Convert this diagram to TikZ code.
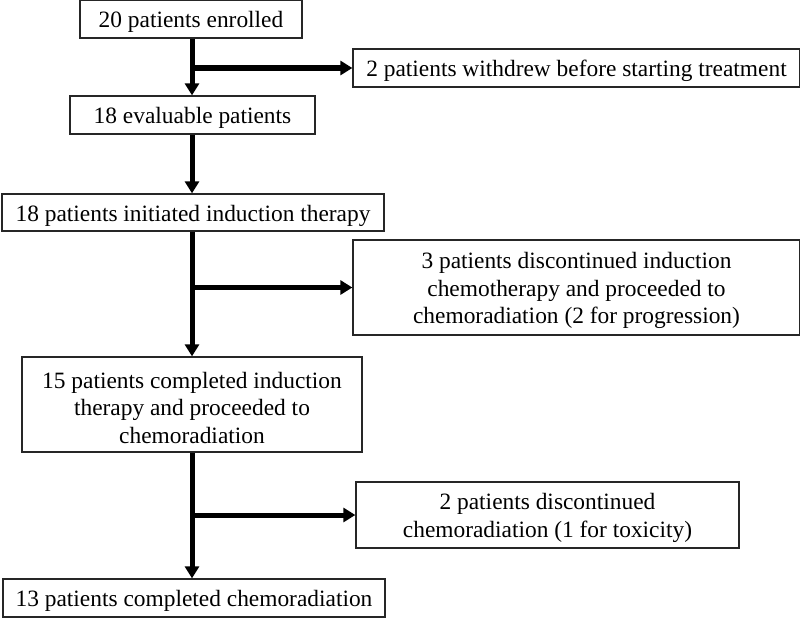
\documentclass[tikz,border=0pt]{standalone}
\usepackage{fontspec}
\setmainfont{Liberation Serif}
\usetikzlibrary{arrows.meta}
\begin{document}
\begin{tikzpicture}[x=1pt,y=1pt,
  box/.style={draw=black!85, line width=1.3pt, inner sep=0pt, anchor=center,
    label={[font=\fontsize{23.4}{27.5}\selectfont, align=center, inner sep=0pt, yshift=-3pt]center:{#1}}},
  flow/.style={line width=5pt, -{Triangle[length=12pt,width=14pt]}}]
\useasboundingbox (0,0) rectangle (800,-618);
\node[box={20 patients enrolled}, minimum width=222pt, minimum height=38pt] (b1) at (191,-19) {};
\node[box={2 patients withdrew before starting treatment}, minimum width=447pt, minimum height=38pt] (b2) at (576.5,-68) {};
\node[box={18 evaluable patients}, minimum width=245pt, minimum height=38pt] (b3) at (192.5,-115) {};
\node[box={18 patients initiated induction therapy}, minimum width=382pt, minimum height=37pt] (b4) at (193,-212.5) {};
\node[box={3 patients discontinued induction\\chemotherapy and proceeded to\\chemoradiation (2 for progression)}, minimum width=447pt, minimum height=95pt] (b5) at (576.5,-287.5) {};
\node[box={15 patients completed induction\\therapy and proceeded to\\chemoradiation}, minimum width=340pt, minimum height=95pt] (b6) at (192,-404.5) {};
\node[box={2 patients discontinued\\chemoradiation (1 for toxicity)}, minimum width=383pt, minimum height=66pt] (b7) at (547.5,-515) {};
\node[box={13 patients completed chemoradiation}, minimum width=382pt, minimum height=38pt] (b8) at (194,-598) {};
\coordinate (j1) at (192,-68);
\coordinate (j2) at (192,-287.5);
\coordinate (j3) at (192,-515);
\draw[flow] (b1.south -| j1) -- (b3.north -| j1);
\draw[flow] (j1) -- (b2.west);
\draw[flow] (b3.south -| j1) -- (b4.north -| j1);
\draw[flow] (b4.south -| j1) -- (b6.north -| j1);
\draw[flow] (j2) -- (b5.west);
\draw[flow] (b6.south -| j1) -- (b8.north -| j1);
\draw[flow] (j3) -- (b7.west);
\end{tikzpicture}
\end{document}
